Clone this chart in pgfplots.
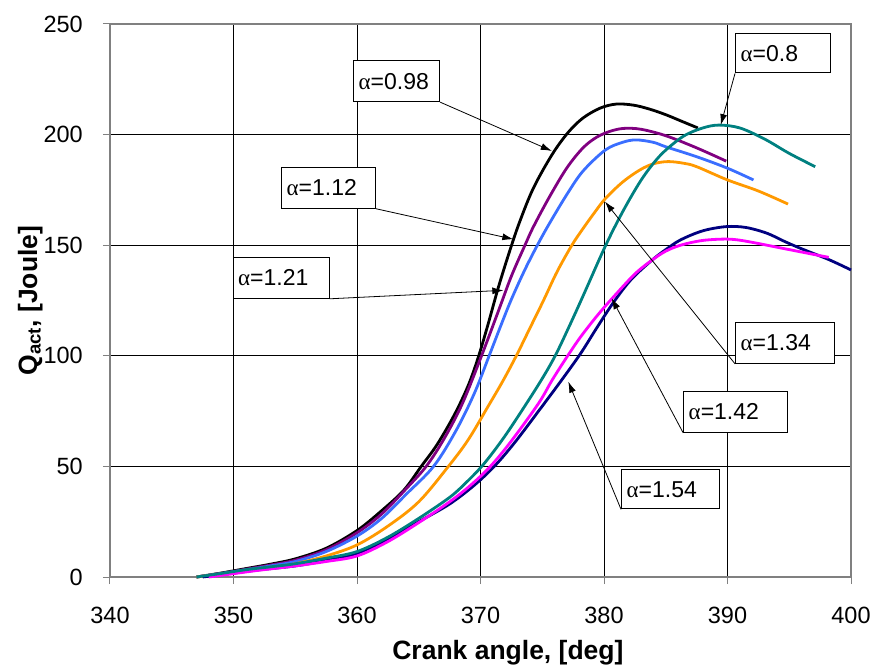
\documentclass[border=0pt]{standalone}
\usepackage{fontspec}
\setmainfont{Liberation Sans}
\newfontfamily\grk{Liberation Serif}
\usepackage{pgfplots}
\pgfplotsset{compat=1.18}
\usetikzlibrary{arrows.meta}

\definecolor{cpurple}{HTML}{800080}
\definecolor{cblue}{HTML}{3A6EFF}
\definecolor{corange}{HTML}{FF9900}
\definecolor{cteal}{HTML}{008080}
\definecolor{cmagenta}{HTML}{FF00FF}
\definecolor{cnavy}{HTML}{000080}

% alpha = 0.98
\pgfplotstableread{
x y
347 0
349 1.8
351 3.8
353 5.8
355 8.2
357.5 13
360 21
362 30
363.8 39.3
365.2 50
366.5 60
367.9 73.5
369 86.5
369.8 99
370.6 114
371.45 131
372.4 148
373.2 161
374.3 176
375.8 191
377.1 201
378.3 207.5
379.7 212
381 213.8
382.4 213.3
383.7 211.5
385 209
386.3 206
387.6 203
}\qa

% alpha = 1.12
\pgfplotstableread{
x y
347 0
349 1.6
351 3.5
353 5.4
355 7.6
357.5 12.3
360 20
362 28.5
364 40
365.6 50
367 62
368.5 78
370.05 99.5
371.5 121
372.5 136
373.6 150
374.3 158.5
375.6 172
377 185
378.3 194
379.4 198.8
380.5 201.5
381.6 202.8
383 202.4
385 199.5
387.5 194
389.9 188
}\qb

% alpha = 1.21
\pgfplotstableread{
x y
347 0
349 1.5
351 3.2
353 5
355 7
357.5 11.5
360 18.5
362 26.5
364 37.5
366.2 50
368 66
369.5 83
370.7 100
371.6 113
372.5 125.5
373.6 139
374.7 151
375.6 160
377 173
378.3 183.5
380.1 193
381.5 196.5
382.6 197.6
384 196.5
385 194.5
387.5 190
390 184.8
392.1 179.5
}\qc

% alpha = 1.34
\pgfplotstableread{
x y
347 0
349 1.4
351 2.9
353 4.3
355 6
357.5 9.5
360 14.5
362.5 23
365 34
367.4 50
369 62
370.6 77
371.8 88.5
372.9 100
374 112.5
375.1 125
376.2 138
377.4 150
378.3 157.5
379.2 164.5
380.1 171
381.5 178.5
382.9 184
384 186.8
385.2 187.8
386.5 187
387.5 185.5
390 179.5
392.5 174.5
394.9 168.6
}\qd

% alpha = 0.8
\pgfplotstableread{
x y
347 0
349 1.6
351 3.3
353 4.6
355 6
357.5 8.5
360 11.5
362.5 18
365 26.5
367.5 36
368.8 42.5
370.1 50
371.3 58.5
372.5 68
374.7 87
376 99.5
377.2 113.5
378.3 127
380.1 149.5
381.5 165
382.9 178.5
384 187
385 193
386.5 199.5
388 203
389.3 204.3
391 203
393 198
395 191.5
397.1 185.5
}\qe

% alpha = 1.42
\pgfplotstableread{
x y
348 0
350 1.5
352 3
355 5
357.5 7
360 9.5
362.5 16
365 24.6
367.5 34
369.2 41.5
370.8 50
372.5 61.5
374.7 78.5
375.8 89
377 99.5
378.1 108.5
379.5 118.5
380.75 126.5
382.5 137
383.9 143.3
385 147.3
386.2 150
387.8 152
389.3 152.7
390.5 152.6
392 151.3
395 148
398.2 144.5
}\qf

% alpha = 1.54
\pgfplotstableread{
x y
347.5 0
350 1.8
352 3.2
355 5
357.5 7.5
360 10.7
362.5 17
365 25
367.5 33
369.5 41.5
371.2 50.5
372.8 61
374.7 75
376.5 88.5
378.1 101
379.4 112.5
380.75 124
382.2 134.5
383.9 143.3
385 148
386.2 152.4
388 156.5
389.9 158.4
391.5 158
393.2 155.4
394.5 152
395.9 148.6
398.2 143.5
400 138.8
}\qg

\tikzset{
  lbl/.style={draw=black, line width=1.1pt, fill=white, anchor=north west,
    inner xsep=5pt, inner ysep=0pt, align=left, minimum height=41pt,
    font=\fontsize{23}{25}\selectfont},
  ptr/.style={draw=black, line width=0.8pt, -{Latex[length=11pt,width=7pt]}},
  crv/.style={line width=2.8pt, smooth, tension=0.55, no marks}
}

\begin{document}
\begin{tikzpicture}
\begin{axis}[
  scale only axis, width=741pt, height=553pt,
  xmin=340, xmax=400, ymin=0, ymax=250,
  xtick={340,350,...,400}, ytick={0,50,...,250},
  grid=major, grid style={black, line width=0.9pt},
  axis line style={draw=gray, line width=1.3pt},
  tick align=outside, tick pos=left, major tick length=7pt,
  tick style={gray, line width=1pt},
  /pgf/number format/assume math mode=true,
  ticklabel style={font=\fontsize{23.5}{26}\selectfont},
  yticklabel style={anchor=east, inner sep=0pt, xshift=-20pt},
  xticklabel style={anchor=north, inner sep=0pt, yshift=-23pt},
  xlabel={Crank angle, [deg]},
  xlabel style={at={(axis description cs:0.537,-0.150)}, anchor=base,
    font=\fontsize{26.5}{30}\selectfont\bfseries},
  ylabel={Q\textsubscript{act}, [Joule]},
  ylabel style={at={(axis description cs:-0.0985,0.5)}, anchor=base,
    font=\fontsize{26.5}{30}\selectfont\bfseries},
  clip=false,
]
\addplot[crv, black] table {\qa};
\addplot[crv, cpurple] table {\qb};
\addplot[crv, cblue] table {\qc};
\addplot[crv, corange] table {\qd};
\addplot[crv, cnavy] table {\qg};
\addplot[crv, cmagenta] table {\qf};
\addplot[crv, cteal] table {\qe};

\node[lbl, text width=76pt] (a098) at (axis cs:359.68,233.7) {{\grk α}=0.98};
\node[lbl, text width=84pt] (a112) at (axis cs:353.85,185.5) {{\grk α}=1.12};
\node[lbl, text width=86pt] (a121) at (axis cs:349.93,144.8) {{\grk α}=1.21};
\node[lbl, text width=85pt, minimum height=39pt] (a08) at (axis cs:390.61,245.8) {{\grk α}=0.8};
\node[lbl, text width=89pt] (a134) at (axis cs:390.61,115.4) {{\grk α}=1.34};
\node[lbl, text width=94pt] (a142) at (axis cs:386.41,84.2) {{\grk α}=1.42};
\node[lbl, text width=88pt, minimum height=39pt] (a154) at (axis cs:381.38,48.7) {{\grk α}=1.54};

\draw[ptr] (a098.south east) -- (axis cs:375.77,192.6);
\draw[ptr] (a112.south east) -- (axis cs:372.66,152.7);
\draw[ptr] (a121.south east) -- (axis cs:371.85,129.6);
\draw[ptr] (a08.south west) -- (axis cs:389.45,204.3);
\draw[ptr] (a134.south west) -- (axis cs:380.08,169.7);
\draw[ptr] (a142.south west) -- (axis cs:380.62,126.0);
\draw[ptr] (a154.south west) -- (axis cs:377.11,88.3);
\end{axis}
\pgfresetboundingbox
\path (current axis.south west) ++(-110pt,-89pt) rectangle ++(874pt,666pt);
\end{tikzpicture}
\end{document}
